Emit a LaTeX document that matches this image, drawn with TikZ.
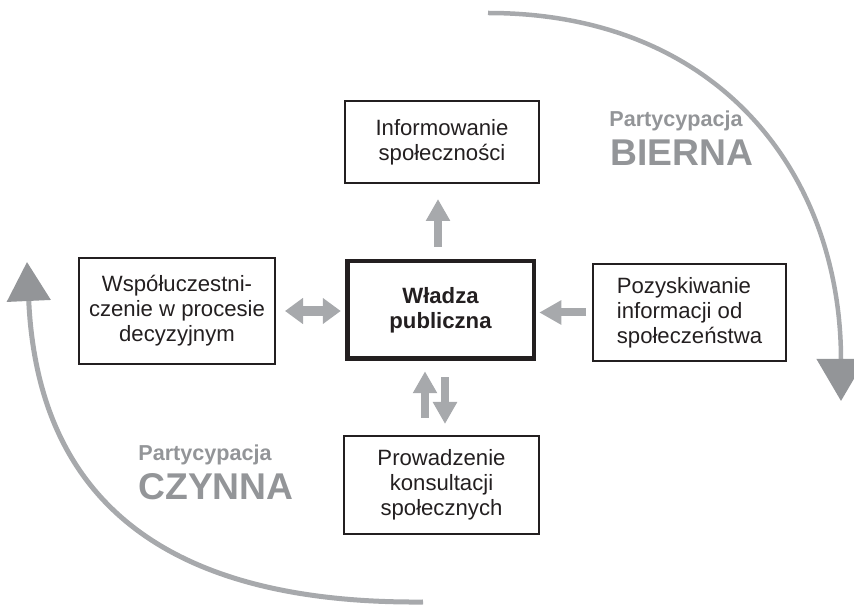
\documentclass[tikz,border=0pt]{standalone}
\usepackage{fontspec}
\setmainfont{Liberation Sans}
\usetikzlibrary{arrows.meta}
\definecolor{arrowgray}{HTML}{A7A9AC}
\definecolor{headgray}{HTML}{939598}
\definecolor{framegray}{HTML}{231F20}

\begin{document}
\begin{tikzpicture}[
    box/.style={draw=framegray, line width=0.04cm, align=center, inner sep=0pt,
      font=\fontsize{12.6}{14.2}\selectfont, text=framegray},
    mainbox/.style={box, line width=0.09cm, font=\fontsize{12.6}{14.2}\selectfont\bfseries},
    blockarrow/.style={draw=arrowgray, line width=0.16cm, -{Triangle[width=0.46cm, length=0.44cm]}},
    partlabel/.style={text=headgray, inner sep=0pt, font=\fontsize{12.3}{14}\selectfont\bfseries},
    kindlabel/.style={text=headgray, inner sep=0pt, font=\fontsize{21.2}{24}\selectfont\bfseries}
  ]
      \useasboundingbox (0,0) rectangle (17.08,12.12);

      \node[mainbox, minimum width=3.73cm, minimum height=1.95cm] (wladza) at (8.81,5.92) {Władza\\publiczna};
      \node[box, minimum width=3.88cm, minimum height=1.64cm] (info) at (8.84,9.28) {Informowanie\\społeczności};
      \node[box, minimum width=3.86cm, minimum height=1.94cm, align=left] (pozysk) at (13.79,5.87) {Pozyskiwanie\\informacji od\\społeczeństwa};
      \node[box, minimum width=3.92cm, minimum height=2.12cm] (wspol) at (3.54,5.90) {Współuczestni-\\czenie w procesie\\decyzyjnym};
      \node[box, minimum width=3.90cm, minimum height=1.96cm] (prow) at (8.83,2.42) {Prowadzenie\\konsultacji\\społecznych};

      \draw[blockarrow, shorten <=0.245cm, shorten >=0.30cm] ([xshift=-0.05cm]wladza.north) -- ([xshift=-0.05cm]wladza.north |- info.south);
      \draw[blockarrow, shorten <=0.12cm, shorten >=0.065cm] (pozysk.west) -- (pozysk.west -| wladza.east);
      \draw[blockarrow, line width=0.19cm, {Triangle[width=0.5cm, length=0.36cm]}-{Triangle[width=0.5cm, length=0.36cm]},
        shorten <=0.18cm, shorten >=0.085cm] (wspol.east) -- (wspol.east -| wladza.west);
      \draw[blockarrow, shorten <=0.34cm, shorten >=0.205cm] ([xshift=-0.33cm]prow.north) -- ([xshift=-0.33cm]prow.north |- wladza.south);
      \draw[blockarrow, shorten <=0.325cm, shorten >=0.22cm] ([xshift=0.07cm]prow.north |- wladza.south) -- ([xshift=0.07cm]prow.north);

      \draw[draw=arrowgray, line width=0.09cm, -{Triangle[width=0.96cm, length=0.84cm, color=headgray]}]
        (9.76,11.86) .. controls (14.40,11.86) and (16.82,8.62) .. (16.82,4.10);
      \draw[draw=arrowgray, line width=0.1cm, -{Triangle[width=0.86cm, length=0.78cm, color=headgray]}]
        (8.46,0.08) .. controls (3.46,0.04) and (0.76,2.00) .. (0.54,6.88);

      \node[partlabel, anchor=base west] (bpart) at (12.18,9.58) {Partycypacja};
      \node[kindlabel, anchor=base west] (bierna) at (12.20,8.80) {BIERNA};
      \node[partlabel, anchor=base west] (cpart) at (2.76,2.90) {Partycypacja};
      \node[kindlabel, anchor=base west] (czynna) at (2.76,2.12) {CZYNNA};

\end{tikzpicture}
\end{document}
